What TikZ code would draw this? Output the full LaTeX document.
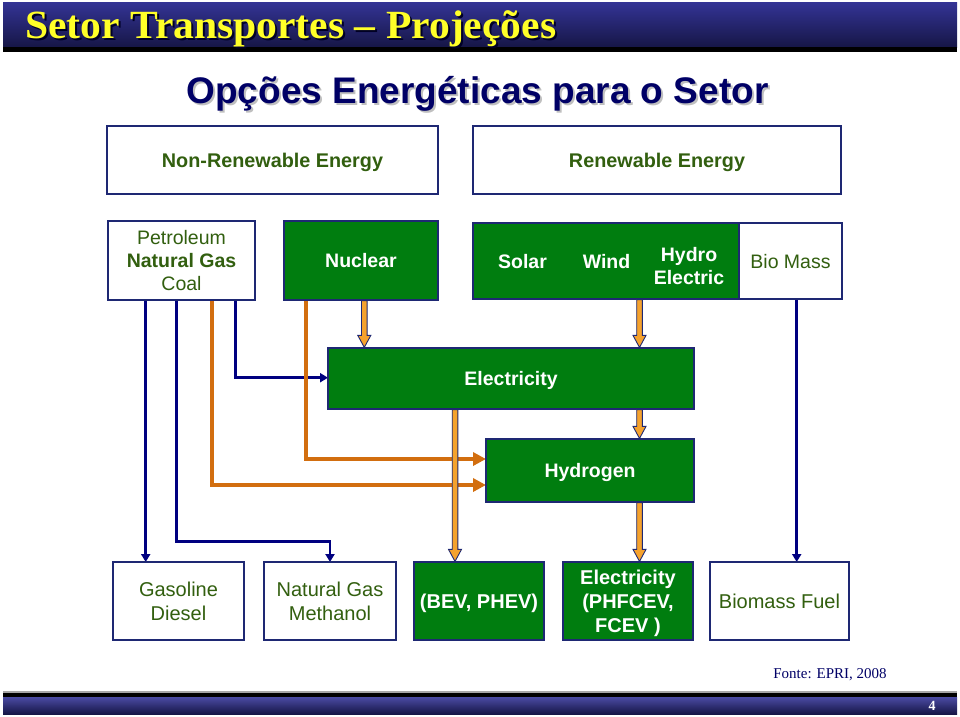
\documentclass[tikz,border=0pt]{standalone}
\usepackage{fontspec}
\setmainfont{Liberation Sans}
\newfontfamily\tnr{Liberation Serif}
\usetikzlibrary{arrows.meta,calc}
\definecolor{barTop}{RGB}{52,52,150}
\definecolor{barBot}{RGB}{22,22,70}
\definecolor{subnavy}{RGB}{0,0,102}
\definecolor{navyline}{RGB}{0,0,128}
\definecolor{boxedge}{RGB}{30,40,115}
\definecolor{gfill}{RGB}{0,125,15}
\definecolor{gtext}{RGB}{50,95,15}
\definecolor{orng}{RGB}{210,110,15}
\definecolor{lorng}{RGB}{245,162,45}
\definecolor{titleyellow}{RGB}{255,255,40}
\tikzset{
  wbox/.style={draw=boxedge, line width=1.2pt, fill=white, text=gtext, inner sep=0pt, align=center, text depth=0pt, font=\fontsize{19.5}{23}\selectfont},
  gbox/.style={draw=boxedge, line width=1.2pt, fill=gfill, text=white, inner sep=0pt, align=center, text depth=0pt, font=\bfseries\fontsize{19.5}{23}\selectfont},
  bwbox/.style={wbox, font=\fontsize{20}{23.5}\selectfont},
  bgbox/.style={gbox, font=\bfseries\fontsize{20}{24}\selectfont},
  glabel/.style={text=white, inner sep=0pt, align=center, text depth=0pt, font=\bfseries\fontsize{19.5}{23}\selectfont},
  hbox/.style={wbox, font=\bfseries\fontsize{19.8}{22}\selectfont},
  nv/.style={draw=navyline, line width=2.5pt, -{Triangle[width=9pt,length=8pt]}},
  og/.style={draw=orng, line width=4pt, -{Triangle[width=13pt,length=13pt]}},
  blk/.style={draw=boxedge, line width=0.9pt, fill=lorng, line join=miter},
}
\newcommand\blkarrow[2]{%
  \draw[blk] ($(#1)+(-2.8,0)$) -- ($(#2)+(-2.8,-12)$) -- ($(#2)+(-6.5,-12)$) -- (#2)
   -- ($(#2)+(6.5,-12)$) -- ($(#2)+(2.8,-12)$) -- ($(#1)+(2.8,0)$) -- cycle;}
\begin{document}
\begin{tikzpicture}[x=1pt,y=-1pt]
\useasboundingbox (0,0) rectangle (960,716);
% top bar
\shade[top color=barTop, bottom color=barBot] (3,2) rectangle (957,47);
\fill[black] (3,47) rectangle (957,52);
\node (titlesh) [anchor=base west, text=black!85!blue, font=\tnr\bfseries\fontsize{40}{42}\selectfont, xscale=1.04, inner sep=0pt] at (27,40) {Setor Transportes – Projeções};
\node (title) [anchor=base west, text=titleyellow, font=\tnr\bfseries\fontsize{40}{42}\selectfont, xscale=1.04, inner sep=0pt] at (25,38) {Setor Transportes – Projeções};
% subtitle
\node (subsh) [anchor=base, text=black!25, font=\bfseries\fontsize{37}{40}\selectfont, inner sep=0pt] at (479.5,105) {Opções Energéticas para o Setor};
\node (sub) [anchor=base, text=subnavy, font=\bfseries\fontsize{37}{40}\selectfont, inner sep=0pt] at (477.5,103) {Opções Energéticas para o Setor};

% column coordinates
\coordinate (xa) at (145.7,0);
\coordinate (xb) at (176.7,0);
\coordinate (xc) at (212,0);
\coordinate (xd) at (235.7,0);
\coordinate (xe) at (306,0);
\coordinate (xf) at (364.3,0);
\coordinate (xg) at (639.5,0);
\coordinate (xi) at (455,0);
\coordinate (xj) at (796.7,0);
\coordinate (yb) at (0,541.7);
\coordinate (yc) at (0,485);
\coordinate (yd) at (0,377.7);
\coordinate (ye) at (0,459);

% boxes
\node (nre) [hbox, minimum width=331pt, minimum height=68pt] at (272.5,160) {Non-Renewable Energy};
\node (re) [hbox, minimum width=368pt, minimum height=68pt] at (657,160) {Renewable Energy};

% connectors (under boxes)
\draw[nv] (xa |- 0,299) -- (xa |- 0,562);
\draw[nv] (xb |- 0,299) -- (xb |- yb) -- (330,541.7) coordinate (ngk) -- (ngk |- 0,562);
\draw[nv] (xd |- 0,299) -- (xd |- yd) -- (328,377.7);
\draw[nv] (xj |- 0,298) -- (xj |- 0,562);
\draw[og] (xc |- 0,298) -- (xc |- yc) -- (486,485);
\draw[og] (xe |- 0,298) -- (xe |- ye) -- (486,459);

\node (pet) [wbox, minimum width=147pt, minimum height=79pt] at (181.5,260.5) {Petroleum\\\textbf{Natural Gas}\\Coal};
\node (nuc) [gbox, minimum width=154pt, minimum height=79pt] at (361,260.5) {Nuclear};
\node (ren) [gbox, minimum width=267pt, minimum height=76pt] at (606.5,261) {};
\node (bio) [wbox, minimum width=103pt, minimum height=76pt] at (790.5,261) {Bio Mass};
\node (solar) [glabel] at (522.5,261) {Solar};
\node (wind) [glabel] at (606.5,261) {Wind};
\node (hydro) [glabel] at (689,265.5) {Hydro\\Electric};
\node (elec) [gbox, minimum width=366pt, minimum height=61pt] at (511,378.5) {Electricity};
\node (hyd) [gbox, minimum width=208pt, minimum height=63pt] at (590,470.5) {Hydrogen};

\node (gas) [bwbox, minimum width=131pt, minimum height=78pt] at (178.5,601) {Gasoline\\Diesel};
\node (ng) [bwbox, minimum width=132pt, minimum height=78pt] at (330,601) {Natural Gas\\Methanol};
\node (bev) [bgbox, minimum width=130pt, minimum height=78pt] at (479,601) {(BEV, PHEV)};
\node (fcev) [bgbox, minimum width=130pt, minimum height=78pt] at (628,601) {Electricity\\(PHFCEV,\\FCEV )};
\node (bf) [bwbox, minimum width=139pt, minimum height=78pt] at (779.5,601) {Biomass Fuel};

% block arrows
\blkarrow{xf |- nuc.south}{xf |- elec.north}
\blkarrow{xg |- ren.south}{xg |- elec.north}
\blkarrow{xg |- elec.south}{xg |- hyd.north}
\blkarrow{xg |- hyd.south}{xg |- fcev.north}
\blkarrow{xi |- elec.south}{xi |- bev.north}

% source
\node (fonte) [anchor=base, text=subnavy, font=\tnr\fontsize{15}{17}\selectfont, inner sep=0pt] at (830,678) {Fonte: EPRI, 2008};

% bottom bar
\fill[black!35] (3,691) rectangle (957,692.5);
\fill[black] (3,692.5) rectangle (957,697.5);
\shade[top color=barTop!90!white, bottom color=barBot] (3,697.5) rectangle (957,714);
\node (pg) [anchor=base, text=white, font=\tnr\bfseries\fontsize{14}{16}\selectfont, inner sep=0pt] at (932,710) {4};
\end{tikzpicture}
\end{document}
